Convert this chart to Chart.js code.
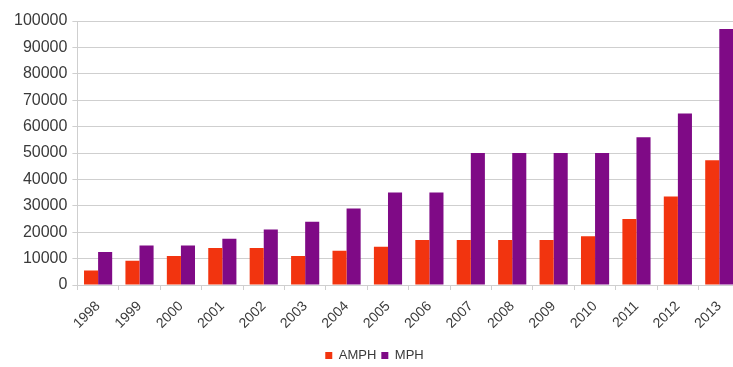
<!DOCTYPE html>
<html>
<head>
<meta charset="utf-8">
<script src="https://cdn.jsdelivr.net/npm/chart.js@4"></script>
<style>
  html, body { margin: 0; padding: 0; background: #fff; overflow: hidden; }
  #wrap { width: 740px; height: 372px; }
</style>
</head>
<body>
<div id="wrap"><canvas id="chart"></canvas></div>
<script>
// Data
const years = ['1998', '1999', '2000', '2001', '2002', '2003', '2004', '2005',
  '2006', '2007', '2008', '2009', '2010', '2011', '2012', '2013'];
const amph = [5500, 9200, 11000, 14000, 14000, 11000, 13000, 14500,
  17000, 17000, 17000, 17000, 18500, 25000, 33500, 47300];
const mph = [12500, 15000, 15000, 17500, 21000, 24000, 29000, 35000,
  35000, 50000, 50000, 50000, 50000, 56000, 65000, 97000];

const gridColor = '#cfcfcf';
const textColor = '#3a3a3a';

new Chart(document.getElementById('chart'), {
  type: 'bar',
  data: {
    labels: years,
    datasets: [{
      label: 'AMPH',
      data: amph,
      backgroundColor: '#f2340f',
      categoryPercentage: 0.68,
      barPercentage: 1
    }, {
      label: 'MPH',
      data: mph,
      backgroundColor: '#7f0a86',
      categoryPercentage: 0.68,
      barPercentage: 1
    }]
  },
  options: {
    responsive: true,
    maintainAspectRatio: false,
    animation: false,
    layout: { padding: { top: 21, left: 9, right: 0, bottom: 0 } },
    plugins: {
      legend: {
        position: 'bottom',
        labels: {
          boxWidth: 7,
          boxHeight: 7,
          padding: 5,
          color: textColor,
          font: { family: 'Liberation Sans', size: 13 }
        }
      },
      tooltip: { enabled: false }
    },
    scales: {
      x: {
        grid: { display: true, drawOnChartArea: false, color: gridColor, tickLength: 5 },
        border: { color: gridColor },
        ticks: {
          color: textColor,
          maxRotation: 45,
          minRotation: 45,
          padding: 8,
          font: { family: 'Liberation Sans', size: 14 }
        },
        // leave a gap between the year labels and the legend
        afterFit: (axis) => { axis.height = 59; }
      },
      y: {
        min: 0,
        max: 100000,
        grid: { color: gridColor, tickLength: 5 },
        border: { color: gridColor },
        ticks: {
          stepSize: 10000,
          color: textColor,
          padding: 5,
          font: { family: 'Liberation Sans', size: 16 },
          callback: (v) => String(v)
        }
      }
    }
  }
});
</script>
</body>
</html>
